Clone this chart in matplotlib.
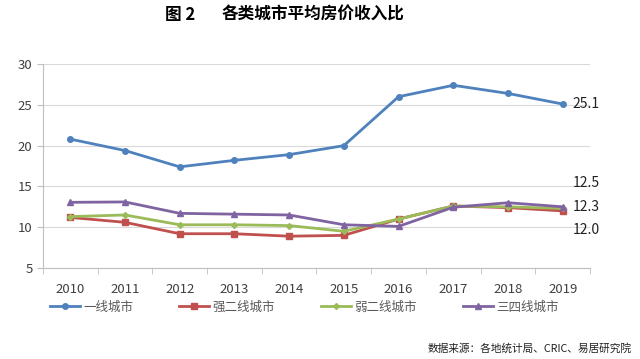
import matplotlib.pyplot as plt

plt.rcParams['font.family'] = ['Noto Sans CJK SC', 'DejaVu Sans']

years = ['2010', '2011', '2012', '2013', '2014', '2015', '2016', '2017', '2018', '2019']
tier1 = [20.8, 19.4, 17.4, 18.2, 18.9, 20.0, 26.0, 27.4, 26.4, 25.1]
strong2 = [11.2, 10.6, 9.2, 9.2, 8.9, 9.0, 11.0, 12.6, 12.4, 12.0]
weak2 = [11.3, 11.5, 10.3, 10.3, 10.2, 9.5, 11.0, 12.6, 12.5, 12.3]
tier34 = [13.05, 13.1, 11.7, 11.6, 11.5, 10.3, 10.1, 12.45, 13.0, 12.5]
names = ['一线城市', '强二线城市', '弱二线城市', '三四线城市']

fig = plt.figure(figsize=(6.4, 3.59), dpi=100)
ax = fig.add_axes([0.067, 0.2535, 0.855, 0.568])

x = list(range(len(years)))
series = [tier1, strong2, weak2, tier34]
colors = ['#4F81BD', '#C0504D', '#9BBB59', '#8064A2']
markers = ['o', 's', 'D', '^']
sizes = [4, 4, 3, 4.5]
for ys, c, m, s, n in zip(series, colors, markers, sizes, names):
    ax.plot(x, ys, color=c, marker=m, markersize=s, linewidth=2, label=n)

ax.set_xlim(-0.5, len(years) - 0.5)
ax.set_ylim(5, 30)
ax.set_yticks([5, 10, 15, 20, 25, 30])
ax.set_xticks(x)
ax.set_xticklabels(years)
ax.set_xticks([i - 0.5 for i in range(len(years) + 1)], minor=True)
ax.tick_params(axis='x', which='major', length=0, pad=10.5, labelsize=9.5, colors='#404040')
ax.tick_params(axis='x', which='minor', length=4, color='#BFBFBF')
ax.tick_params(axis='y', length=4, color='#BFBFBF', labelsize=9.5, colors='#404040')
ax.grid(axis='y', color='#D9D9D9', linewidth=0.8)
ax.set_axisbelow(True)
for side in ['top', 'right']:
    ax.spines[side].set_visible(False)
ax.spines['left'].set_color('#BFBFBF')
ax.spines['bottom'].set_color('#BFBFBF')

# 末端数值标注
fig.text(0.895, 1 - 104 / 359, '25.1', fontsize=10, va='center', color='#202020')
fig.text(0.895, 1 - 183 / 359, '12.5', fontsize=10, va='center', color='#202020')
fig.text(0.895, 1 - 207 / 359, '12.3', fontsize=10, va='center', color='#202020')
fig.text(0.895, 1 - 230 / 359, '12.0', fontsize=10, va='center', color='#202020')

fig.text(165 / 640, 1 - 15 / 359, '图 2', fontsize=12, fontweight='bold', va='center')
fig.text(222 / 640, 1 - 15 / 359, '各类城市平均房价收入比', fontsize=12, fontweight='bold', va='center')

ax.legend(loc='center left', bbox_to_anchor=(50 / 640, 1 - 307 / 359), bbox_transform=fig.transFigure,
          ncol=4, frameon=False, fontsize=9, handlelength=2.4, handletextpad=0.25,
          columnspacing=3.7, borderpad=0, borderaxespad=0, labelcolor='#595959')

fig.text(632 / 640, 1 - 348 / 359, '数据来源：各地统计局、CRIC、易居研究院', fontsize=7.7,
         ha='right', va='center', color='#202020')

fig.savefig('out.png', dpi=100)
